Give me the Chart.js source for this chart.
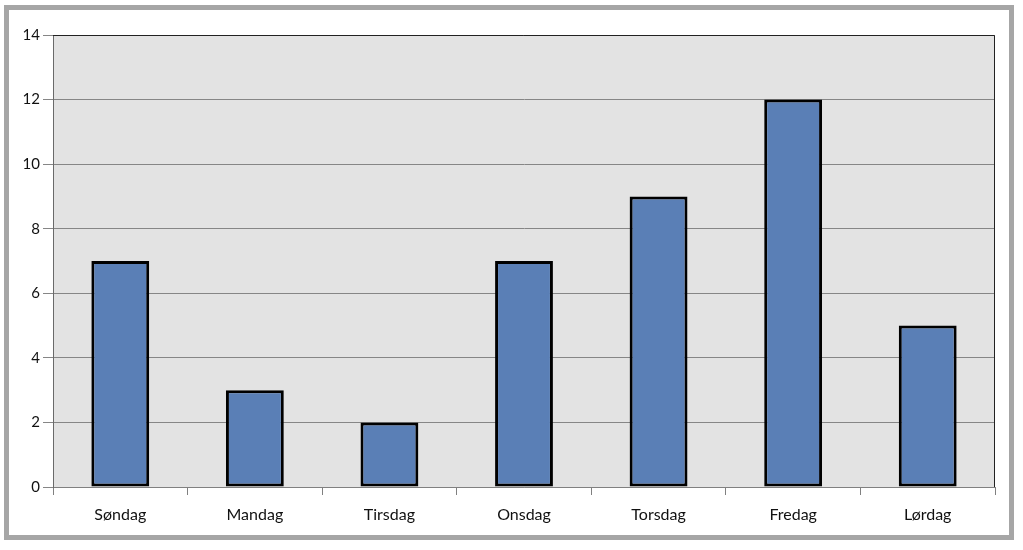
<!DOCTYPE html>
<html>
<head>
<meta charset="utf-8">
<script src="https://cdn.jsdelivr.net/npm/chart.js@4/dist/chart.umd.min.js"></script>
<style>
    body { margin: 0; background: #fff; }
    #frame {
        position: absolute; left: 4px; top: 5px;
        width: 1010px; height: 535px;
        box-sizing: border-box;
        border: 5px solid #a6a6a6;
    }
    #wrap { position: absolute; left: 0; top: 0; width: 1023px; height: 550px; }
</style>
</head>
<body>
<div id="frame"></div>
<div id="wrap"><canvas id="days"></canvas></div>
<script>
const dager = ['Søndag', 'Mandag', 'Tirsdag', 'Onsdag', 'Torsdag', 'Fredag', 'Lørdag'];
const antall = [7, 3, 2, 7, 9, 12, 5];
const yTicks = [0, 2, 4, 6, 8, 10, 12, 14];

// gray plot background + dark frame round the chart area
const plotFrame = {
    id: 'plotFrame',
    beforeDraw(chart) {
        const a = chart.chartArea, ctx = chart.ctx;
        ctx.save();
        ctx.fillStyle = '#e3e3e3';
        ctx.fillRect(a.left, a.top, a.right - a.left, a.bottom - a.top);
        ctx.restore();
    },
    afterDraw(chart) {
        const a = chart.chartArea, ctx = chart.ctx;
        ctx.save();
        ctx.strokeStyle = '#222';
        ctx.lineWidth = 1;
        ctx.beginPath();
        ctx.moveTo(a.left, a.top + 0.5);
        ctx.lineTo(a.right - 0.5, a.top + 0.5);
        ctx.lineTo(a.right - 0.5, a.bottom);
        ctx.stroke();
        ctx.restore();
    }
};

function initChart() {
    const ctx = document.getElementById('days').getContext('2d');
    new Chart(ctx, {
        type: 'bar',
        data: {
            labels: dager,
            datasets: [{
                data: antall,
                backgroundColor: '#5a7fb6',
                borderColor: '#000',
                borderWidth: 3,
                borderSkipped: false,
                categoryPercentage: 1,
                barPercentage: 0.43
            }]
        },
        options: {
            responsive: true,
            maintainAspectRatio: false,
            animation: false,
            layout: { padding: { top: 35, right: 28, bottom: 0, left: 0 } },
            plugins: { legend: { display: false }, tooltip: { enabled: false } },
            scales: {
                x: {
                    offset: true,
                    grid: {
                        offset: true,
                        drawOnChartArea: false,
                        tickLength: 8,
                        tickColor: '#808080'
                    },
                    border: { color: '#808080' },
                    ticks: {
                        color: '#111',
                        padding: 10,
                        font: { family: 'Lato', size: 16 }
                    },
                    afterFit(scale) { scale.height = 63; }
                },
                y: {
                    min: 0,
                    max: 14,
                    afterBuildTicks(scale) {
                        scale.ticks = yTicks.map(v => ({ value: v }));
                    },
                    grid: {
                        color: '#868686',
                        tickLength: 10,
                        tickColor: '#868686'
                    },
                    border: { color: '#6a6a6a' },
                    ticks: {
                        color: '#111',
                        padding: 3,
                        font: { family: 'Lato', size: 15 }
                    },
                    afterFit(scale) { scale.width = 53; }
                }
            }
        },
        plugins: [plotFrame]
    });
}

document.addEventListener('DOMContentLoaded', initChart);
</script>
</body>
</html>
